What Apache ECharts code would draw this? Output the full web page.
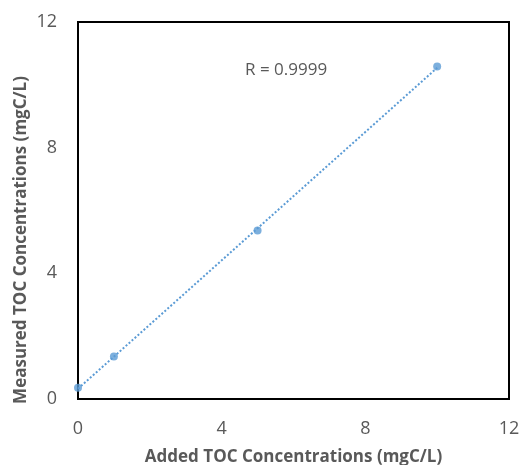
<!DOCTYPE html>
<html>
<head>
<meta charset="utf-8">
<script src="https://cdn.jsdelivr.net/npm/echarts@6/dist/echarts.min.js"></script>
<style>
  html, body { margin: 0; padding: 0; background: #fff; }
  #chart { width: 521px; height: 465px; }
</style>
</head>
<body>
<div id="chart"></div>
<script>
// added vs measured TOC (mgC/L)
const addedToc = [0, 1, 5, 10]
const measuredToc = [0.36, 1.35, 5.36, 10.58]
const rLabel = 'R = 0.9999'

// least squares trend line over the data range
function fitLine(xs, ys) {
  const n = xs.length
  const mx = xs.reduce((a, b) => a + b, 0) / n
  const my = ys.reduce((a, b) => a + b, 0) / n
  let sxy = 0
  let sxx = 0
  for (let i = 0; i < n; i++) {
    sxy += (xs[i] - mx) * (ys[i] - my)
    sxx += (xs[i] - mx) * (xs[i] - mx)
  }
  const k = sxy / sxx
  const b = my - k * mx
  const x0 = Math.min(...xs)
  const x1 = Math.max(...xs)
  return [[x0, k * x0 + b], [x1, k * x1 + b]]
}

const points = addedToc.map((x, i) => [x, measuredToc[i]])
const trend = fitLine(addedToc, measuredToc)

const textColor = '#595959'
const font = 'Open Sans'

const chart = echarts.init(document.getElementById('chart'), null, { renderer: 'canvas' })
chart.setOption({
  animation: false,
  grid: {
    left: 78,
    top: 22,
    width: 431,
    height: 377,
    show: true,
    borderColor: '#000',
    borderWidth: 2,
    containLabel: false,
    outerBoundsMode: 'none'
  },
  xAxis: {
    type: 'value',
    min: 0,
    max: 12,
    interval: 4,
    axisLine: { show: false },
    axisTick: { show: false },
    splitLine: { show: false },
    axisLabel: { color: textColor, fontSize: 18, fontFamily: font, margin: 21 },
    name: 'Added TOC Concentrations (mgC/L)',
    nameLocation: 'middle',
    nameGap: 50,
    nameTextStyle: { color: textColor, fontSize: 17, fontWeight: 'bold', fontFamily: font }
  },
  yAxis: {
    type: 'value',
    min: 0,
    max: 12,
    interval: 4,
    axisLine: { show: false },
    axisTick: { show: false },
    splitLine: { show: false },
    axisLabel: { color: textColor, fontSize: 18, fontFamily: font, margin: 21 }
  },
  graphic: [
    {
      type: 'text',
      x: 21,
      y: 240,
      rotation: Math.PI / 2,
      style: {
        text: 'Measured TOC Concentrations (mgC/L)',
        fill: textColor,
        font: 'bold 17px "Open Sans"',
        textAlign: 'center',
        textVerticalAlign: 'middle'
      }
    },
    {
      type: 'text',
      x: 245,
      y: 70,
      style: {
        text: rLabel,
        fill: textColor,
        font: '17px "Open Sans"',
        textAlign: 'left',
        textVerticalAlign: 'middle'
      }
    }
  ],
  series: [
    {
      type: 'line',
      data: trend,
      symbol: 'none',
      lineStyle: { color: '#5B9BD5', width: 2, type: [2, 2] },
      silent: true
    },
    {
      type: 'scatter',
      data: points,
      symbolSize: 8,
      itemStyle: { color: '#5B9BD5' }
    }
  ]
})
</script>
</body>
</html>
